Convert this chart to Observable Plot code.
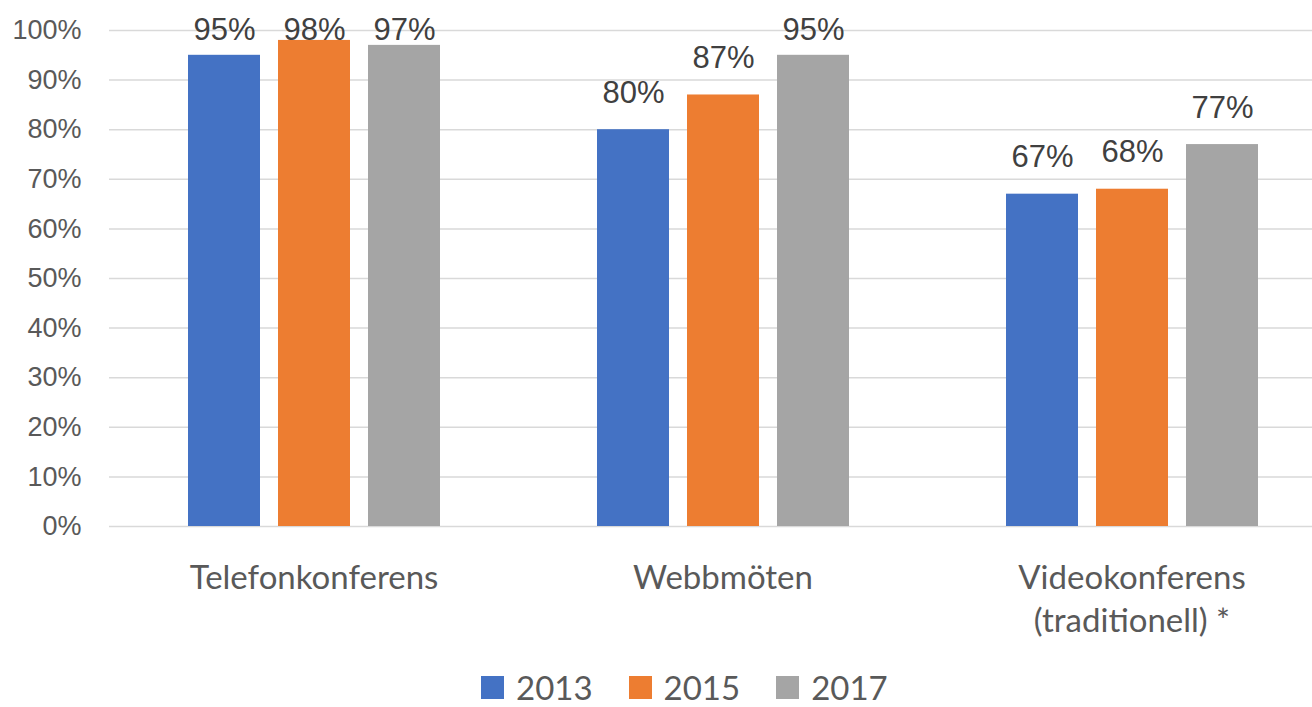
<!DOCTYPE html>
<html>
<head>
<meta charset="utf-8">
<script src="https://cdn.jsdelivr.net/npm/d3@7"></script>
<script src="https://cdn.jsdelivr.net/npm/@observablehq/plot@0.6"></script>
<style>
  html, body { margin: 0; padding: 0; background: #fff; overflow: hidden; width: 1312px; height: 707px; }
  #chart svg { display: block; overflow: hidden; }
  #legend { display: flex; align-items: center; padding-left: 481px; margin-top: 17px; height: 40px;
            font-family: Lato, sans-serif; font-size: 33px; line-height: 40px; color: #595959; }
  .item { display: flex; align-items: center; margin-right: 36px; }
  .sw { width: 23px; height: 23px; margin-right: 12px; }
</style>
</head>
<body>
<div id="chart"></div>
<div id="legend"></div>
<script>
const categories = ["Telefonkonferens", "Webbmöten", "Videokonferens\n(traditionell) *"];
const years = ["2013", "2015", "2017"];
const values2013 = [95, 80, 67];
const values2015 = [98, 87, 68];
const values2017 = [97, 95, 77];
const colors = ["#4472C4", "#ED7D31", "#A5A5A5"];
const yTicks = [0, 10, 20, 30, 40, 50, 60, 70, 80, 90, 100];

const series = [values2013, values2015, values2017];
const data = [];
categories.forEach((c, i) => {
  years.forEach((y, j) => data.push({category: c, year: y, value: series[j][i]}));
});

const chart = Plot.plot({
  width: 1312,
  height: 650,
  marginLeft: 109,
  marginRight: 0,
  marginTop: 30,
  marginBottom: 124,
  style: {background: "#fff", fontFamily: "Liberation Sans, Arial, sans-serif"},
  fx: {domain: categories, range: [109, 1336], padding: 0, label: null, axis: null},
  x: {domain: years, paddingInner: 0.2, paddingOuter: 0.86, axis: null},
  y: {domain: [0, 100], axis: null},
  color: {domain: years, range: colors},
  marks: [
    Plot.gridY(yTicks, {stroke: "#d9d9d9", strokeOpacity: 1, strokeWidth: 1.5}),
    Plot.axisY(yTicks, {tickSize: 0, tickPadding: 28, tickFormat: d => d + "%", fontSize: 27,
      fontFamily: "Liberation Sans, Arial, sans-serif", fill: "#595959", label: null}),
    Plot.barY(data, {fx: "category", x: "year", y: "value", fill: "year"}),
    Plot.text(data, {fx: "category", x: "year", y: d => Math.min(d.value, 92.7), text: d => d.value + "%",
      lineAnchor: "bottom", dy: -27, fontSize: 31, fill: "#404040",
      fontFamily: "Liberation Sans, Arial, sans-serif"}),
    Plot.axisFx({anchor: "bottom", tickSize: 0, tickPadding: 32, fontSize: 33, fontFamily: "Lato, sans-serif",
      fill: "#595959", label: null, lineHeight: 1.3})
  ]
});
document.getElementById("chart").appendChild(chart);

const legend = document.getElementById("legend");
years.forEach((y, i) => {
  const item = document.createElement("div");
  item.className = "item";
  const sw = document.createElement("div");
  sw.className = "sw";
  sw.style.background = colors[i];
  const t = document.createElement("span");
  t.textContent = y;
  item.appendChild(sw);
  item.appendChild(t);
  legend.appendChild(item);
});
</script>
</body>
</html>
